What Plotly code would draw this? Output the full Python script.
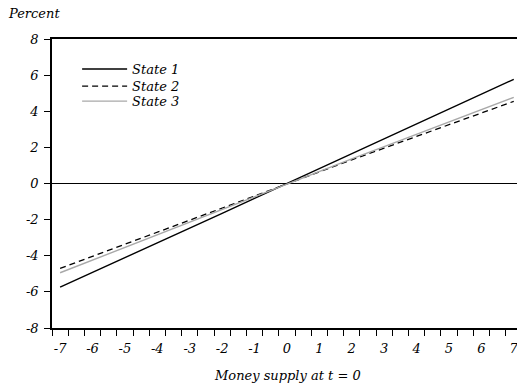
import plotly.graph_objects as go

# Data
money_supply = [-7, -6, -5, -4, -3, -2, -1, 0, 1, 2, 3, 4, 5, 6, 7]
state1 = [-5.74, -4.93, -4.12, -3.30, -2.47, -1.65, -0.82, 0.0, 0.82, 1.65, 2.47, 3.30, 4.12, 4.95, 5.77]
state2 = [-4.70, -4.03, -3.37, -2.70, -2.03, -1.36, -0.68, 0.0, 0.66, 1.31, 1.96, 2.61, 3.26, 3.91, 4.55]
state3 = [-4.94, -4.24, -3.53, -2.82, -2.12, -1.41, -0.70, 0.0, 0.68, 1.36, 2.04, 2.72, 3.40, 4.09, 4.77]

x_tick_labels = [str(v) for v in money_supply]
y_tick_values = [-8, -6, -4, -2, 0, 2, 4, 6, 8]
y_tick_labels = [str(v) for v in y_tick_values]

FONT = "DejaVu Serif"
FS = 13

fig = go.Figure()
fig.add_trace(go.Scatter(x=money_supply, y=state1, mode="lines", name="State 1",
                         line=dict(color="black", width=1.4), legend="legend",
                         xaxis="x", yaxis="y"))
fig.add_trace(go.Scatter(x=money_supply, y=state2, mode="lines", name="State 2",
                         line=dict(color="black", width=1.3, dash="6px,4px"), legend="legend2",
                         xaxis="x2", yaxis="y"))
fig.add_trace(go.Scatter(x=money_supply, y=state3, mode="lines", name="State 3",
                         line=dict(color="#a8a8a8", width=1.4), legend="legend3",
                         xaxis="x2", yaxis="y"))

tick_marks = [-7.25 + 0.5 * k for k in range(29)]

leg_common = dict(bgcolor="rgba(0,0,0,0)", borderwidth=0, xanchor="left", yanchor="middle",
                  font=dict(family=FONT, size=FS, style="italic", color="black"),
                  itemwidth=45, tracegroupgap=0)

fig.update_layout(
    width=517, height=386,
    margin=dict(l=52, r=0, t=39, b=58, autoexpand=False),
    plot_bgcolor="white", paper_bgcolor="white",
    font=dict(family=FONT, size=FS, style="italic", color="black"),
    showlegend=True,
    legend=dict(x=0.054, y=0.896, **leg_common),
    legend2=dict(x=0.054, y=0.837, **leg_common),
    legend3=dict(x=0.054, y=0.785, **leg_common),
    xaxis=dict(range=[-7.25, 7.10], tickvals=tick_marks, showticklabels=False,
               ticks="outside", ticklen=6, tickwidth=1.2, tickcolor="black",
               showline=True, linecolor="black", linewidth=1.5, mirror=True,
               showgrid=False, zeroline=False, automargin=False),
    xaxis2=dict(overlaying="x", matches="x", side="bottom", anchor="y",
                tickvals=money_supply, ticktext=x_tick_labels,
                ticks="outside", ticklen=8, tickcolor="rgba(0,0,0,0)",
                ticklabeloverflow="allow",
                tickfont=dict(family=FONT, size=FS, style="italic", color="black"),
                showline=False, showgrid=False, zeroline=False, automargin=False),
    yaxis=dict(range=[-8, 8], tickvals=y_tick_values, ticktext=y_tick_labels,
               ticks="outside", ticklen=6, tickwidth=1.2, tickcolor="black",
               tickfont=dict(family=FONT, size=FS, style="italic", color="black"),
               showline=True, linecolor="black", linewidth=1.5,
               showgrid=False, zeroline=True, zerolinecolor="black", zerolinewidth=1,
               automargin=False, ticklabelstandoff=3),
    annotations=[
        dict(text="Percent", xref="paper", yref="paper", x=-0.099, y=1.087,
             xanchor="left", yanchor="middle", showarrow=False,
             font=dict(family=FONT, size=FS, style="italic", color="black")),
        dict(text="Money supply at t = 0", xref="paper", yref="paper", x=0.507, y=-0.165,
             xanchor="center", yanchor="middle", showarrow=False,
             font=dict(family=FONT, size=FS, style="italic", color="black")),
    ],
)

fig.write_html("out.html", config={"displayModeBar": False},
               post_script="document.body.style.margin='0';")
